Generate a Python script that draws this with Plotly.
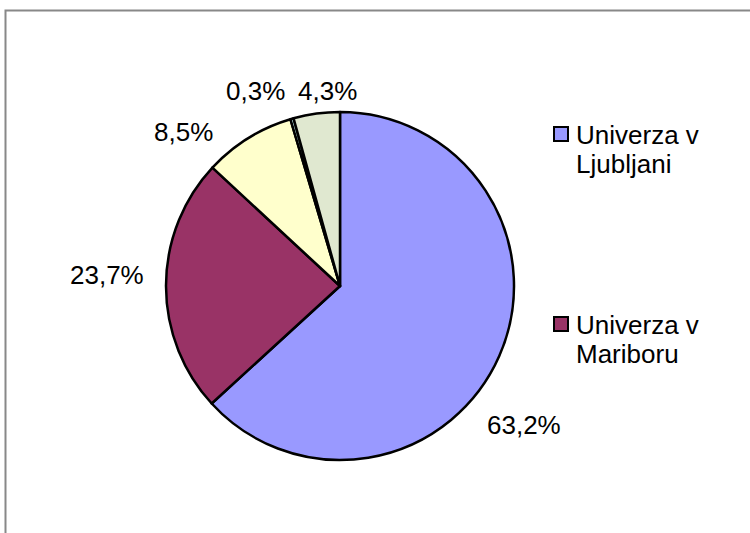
import plotly.graph_objects as go

labels = ["Univerza v Ljubljani", "Univerza v Mariboru", "Univerza na Primorskem",
          "Univerza v Novi Gorici", "Samostojni visokošolski zavodi"]
values = [63.2, 23.7, 8.5, 0.3, 4.3]
colors = ["#9999FF", "#993366", "#FFFFCC", "#CCFFFF", "#E0E8D0"]
legend_shown = 2

W, H = 750, 533
FONT = "Liberation Sans, Arial, sans-serif"
FS = 26

# data-label placement (pixel centres, Excel "best fit" layout)
label_xy = [(524, 425), (107, 275), (183, 132), (255, 91), (327, 91)]

def px(x):
    return x / W

def py(y):
    return 1 - y / H

fig = go.Figure()
fig.add_trace(go.Pie(
    labels=labels, values=values, sort=False, direction="clockwise", rotation=0,
    marker=dict(colors=colors, line=dict(color="black", width=2.5)),
    textinfo="none",
    domain=dict(x=[px(166), px(514)], y=[py(460), py(112)]),
    showlegend=False, hoverinfo="label+percent",
))

total = sum(values)
shapes = [dict(type="rect", xref="paper", yref="paper",
               x0=px(5.5), x1=1.05, y0=-0.05, y1=py(10.5),
               line=dict(color="#888888", width=2), fillcolor="rgba(0,0,0,0)")]
annotations = []
for v, (lx, ly) in zip(values, label_xy):
    txt = f"{100 * v / total:.1f}%".replace(".", ",")
    annotations.append(dict(xref="paper", yref="paper", x=px(lx), y=py(ly),
                            xanchor="center", yanchor="middle", text=txt, showarrow=False,
                            font=dict(family=FONT, size=FS, color="black")))

leg_tops = [127, 317]
for i in range(legend_shown):
    top = leg_tops[i]
    shapes.append(dict(type="rect", xref="paper", yref="paper",
                       x0=px(554), x1=px(568), y0=py(top + 14), y1=py(top),
                       line=dict(color="black", width=2), fillcolor=colors[i]))
    parts = labels[i].rsplit(" ", 1)
    for j, p in enumerate(parts):
        annotations.append(dict(xref="paper", yref="paper", x=px(574),
                                y=py(top + 8 + 29 * j), xanchor="left", yanchor="middle",
                                text=p, showarrow=False,
                                font=dict(family=FONT, size=FS, color="black")))

fig.update_layout(
    width=W, height=H, margin=dict(l=0, r=0, t=0, b=0),
    paper_bgcolor="white", plot_bgcolor="white",
    separators=",.", shapes=shapes, annotations=annotations,
)
fig.write_html("out.html", config={"displayModeBar": False},
               post_script="document.body.style.margin='0';")
